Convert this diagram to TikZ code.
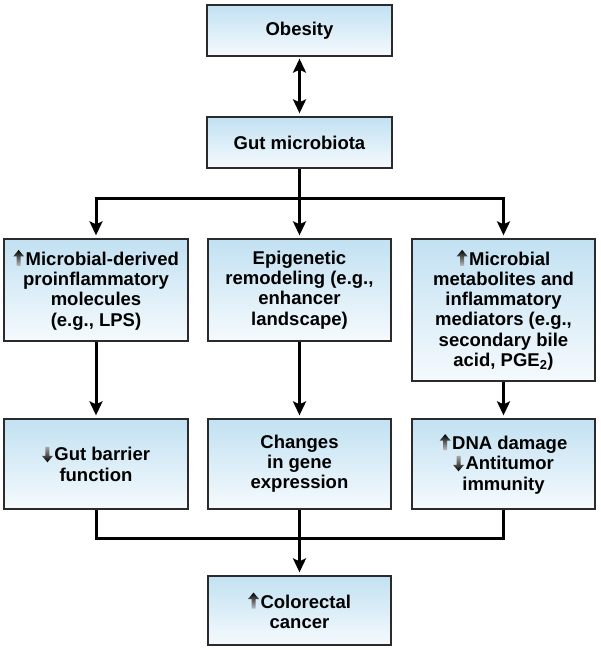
\documentclass[tikz,border=0pt]{standalone}
\usepackage{fontspec}
\setmainfont{Liberation Sans}
\usetikzlibrary{arrows.meta}
\definecolor{boxtop}{HTML}{C2E1F2}
\definecolor{boxbot}{HTML}{F5FAFD}
\definecolor{boxline}{HTML}{2B2B2B}
\newcommand{\upa}{\tikz[baseline=0pt,x=1pt,y=1pt]{\shade[top color=black,bottom color=black!25] (-2,-0.5)--(2,-0.5)--(2,9)--(5.5,9)--(0,15.5)--(-5.5,9)--(-2,9)--cycle;}\hspace{1.5pt}}
\newcommand{\dna}{\tikz[baseline=0pt,x=1pt,y=1pt]{\shade[top color=black!35,bottom color=black] (-2,14)--(2,14)--(2,5)--(5.5,5)--(0,-1.5)--(-5.5,5)--(-2,5)--cycle;}\hspace{1.5pt}}
\begin{document}
\begin{tikzpicture}[x=1pt,y=-1pt,
  box/.style={draw=boxline,line width=1.3pt,top color=boxtop,bottom color=boxbot,
    align=center,font=\bfseries\fontsize{18.5}{20.2}\selectfont,inner sep=0pt},
  conn/.style={line width=3pt,black},
  tip/.style={-{Stealth[length=14pt,width=13pt,inset=3pt]},shorten >=3pt}]
\useasboundingbox (0,0) rectangle (600,650);

\node[box,minimum width=185pt,minimum height=51pt] (ob) at (299.5,30.5) {Obesity};
\node[box,minimum width=185pt,minimum height=51pt] (gut) at (299.5,142.5) {Gut microbiota};

\node[box,minimum width=184pt,minimum height=102pt] (l2) at (96,290)
  {\upa Microbial-derived\\proinflammatory\\molecules\\(e.g., LPS)};
\node[box,minimum width=183pt,minimum height=102pt] (m2) at (299.5,290)
  {Epigenetic\\remodeling (e.g.,\\enhancer\\landscape)};
\node[box,minimum width=183pt,minimum height=142pt] (r2) at (503.5,310)
  {\upa Microbial\\metabolites and\\inflammatory\\mediators (e.g.,\\secondary bile\\acid, PGE\textsubscript{2})};

\node[box,minimum width=184pt,minimum height=90pt] (l3) at (96,464)
  {\dna Gut barrier\\function};
\node[box,minimum width=183pt,minimum height=90pt] (m3) at (299.5,464)
  {Changes\\in gene\\expression};
\node[box,minimum width=183pt,minimum height=90pt] (r3) at (503.5,464)
  {\upa DNA damage\\\dna Antitumor\\immunity};

\node[box,minimum width=183pt,minimum height=69pt] (cc) at (299.5,610.5)
  {\upa Colorectal\\cancer};

\coordinate (split) at (299.5,198);
\coordinate (merge) at (299.5,538);

\draw[conn,{Stealth[length=14pt,width=13pt,inset=3pt]}-{Stealth[length=14pt,width=13pt,inset=3pt]},shorten <=2pt,shorten >=3pt] (ob.south) -- (gut.north);

\draw[conn] (gut.south) -- (split);
\draw[conn,tip] (split) -| (l2.north);
\draw[conn,tip] (split) -- (m2.north);
\draw[conn,tip] (split) -| (r2.north);

\draw[conn,tip] (l2.south) -- (l3.north);
\draw[conn,tip] (m2.south) -- (m3.north);
\draw[conn,tip] (r2.south) -- (r3.north);

\draw[conn] (l3.south) |- (merge);
\draw[conn] (r3.south) |- (merge);
\draw[conn] (m3.south) -- (merge);
\draw[conn,tip] (merge) -- (cc.north);
\end{tikzpicture}
\end{document}
